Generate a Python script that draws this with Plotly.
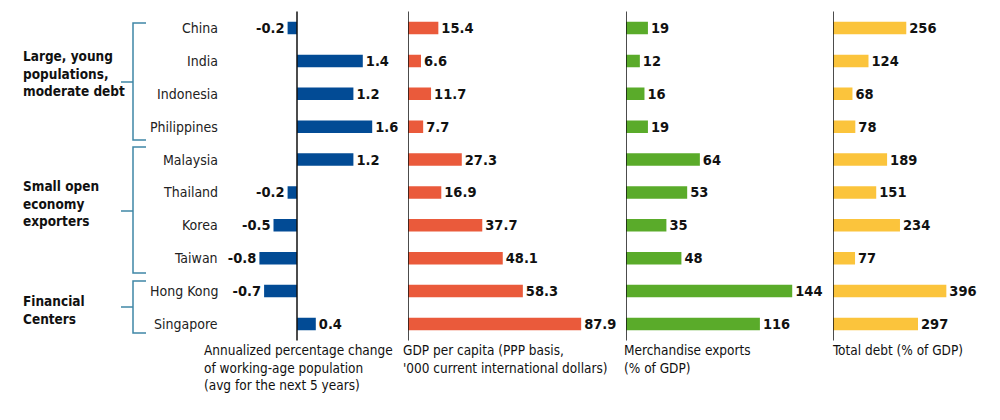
import plotly.graph_objects as go

countries = ["China", "India", "Indonesia", "Philippines", "Malaysia", "Thailand",
             "Korea", "Taiwan", "Hong Kong", "Singapore"]
pop_change = [-0.2, 1.4, 1.2, 1.6, 1.2, -0.2, -0.5, -0.8, -0.7, 0.4]
gdp_pc = [15.4, 6.6, 11.7, 7.7, 27.3, 16.9, 37.7, 48.1, 58.3, 87.9]
exports = [19, 12, 16, 19, 64, 53, 35, 48, 144, 116]
debt = [256, 124, 68, 78, 189, 151, 234, 77, 396, 297]

panel_titles = [
    "Annualized percentage change<br>of working-age population<br>(avg for the next 5 years)",
    "GDP per capita (PPP basis,<br>'000 current international dollars)",
    "Merchandise exports<br>(% of GDP)",
    "Total debt (% of GDP)",
]
groups = ["Large, young<br>populations,<br>moderate debt", "Small open<br>economy<br>exporters",
          "Financial<br>Centers"]

colors = ["#024b95", "#ea5a3b", "#5aab2a", "#fbc43c"]
series = [pop_change, gdp_pc, exports, debt]
fmts = ["{:.1f}", "{:.1f}", "{:d}", "{:d}"]

W, H = 1000, 420
FONT = "DejaVu Sans Condensed, DejaVu Sans, sans-serif"

# pixel layout
y_top_px, y_bot_px = 11.6, 340.4
ydom = [1 - y_bot_px / H, 1 - y_top_px / H]
xdoms = [(240.6, 386.3), (408, 605), (626, 828), (833, 999)]
xranges = [(-1.2, 1.9), (0, 100), (0, 175), (0, 580)]
title_x = [203, 402, 623, 831]
# bracket geometry (pixels): top, bottom, middle, label centre
brackets = [(23, 140, 82, 73), (147, 273, 211, 203), (281, 333, 307, 310)]

fig = go.Figure()
for i, (vals, col, fmt) in enumerate(zip(series, colors, fmts)):
    ax = "" if i == 0 else str(i + 1)
    fig.add_trace(go.Bar(
        x=vals, y=countries, orientation="h",
        marker=dict(color=col, line=dict(width=0)),
        width=0.38,
        text=[fmt.format(v) for v in vals],
        textposition="outside",
        constraintext="none",
        textfont=dict(family=FONT, size=14.5, color="#111111", weight="bold"),
        cliponaxis=False,
        xaxis="x" + ax, yaxis="y",
        showlegend=False, hoverinfo="skip",
    ))
    fig.update_layout(**{
        "xaxis" + ax: dict(domain=[xdoms[i][0] / W, xdoms[i][1] / W], range=list(xranges[i]),
                           showgrid=False, zeroline=False, showticklabels=False,
                           showline=False, ticks="", anchor="y", fixedrange=True)
    })
    fig.add_shape(type="line", xref="x" + ax, yref="paper", x0=0, x1=0,
                  y0=ydom[0], y1=ydom[1], line=dict(color="#111111", width=1.5))
    fig.add_annotation(xref="paper", yref="paper", x=title_x[i] / W, y=1 - 341 / H,
                       xanchor="left", yanchor="top", align="left",
                       text=panel_titles[i], showarrow=False, borderpad=0,
                       font=dict(family=FONT, size=13.5, color="#111111"))

fig.update_layout(yaxis=dict(domain=ydom, categoryorder="array", categoryarray=countries,
                             autorange="reversed", showticklabels=False, showgrid=False,
                             zeroline=False, showline=False, ticks="", fixedrange=True))

# country labels
for c in countries:
    fig.add_annotation(xref="paper", yref="y", x=219 / W, y=c, xanchor="right",
                       yanchor="middle", text=c, showarrow=False, borderpad=0,
                       font=dict(family=FONT, size=14, color="#222222"))

# group brackets and labels
bc = "#3f87a6"
px = lambda v: v / W
py = lambda v: 1 - v / H
for g, (top, bot, mid, lab) in zip(groups, brackets):
    fig.add_shape(type="path", xref="paper", yref="paper",
                  path=f"M {px(146)} {py(top)} L {px(133)} {py(top)} L {px(133)} {py(bot)} L {px(146)} {py(bot)}",
                  line=dict(color=bc, width=1.5))
    fig.add_shape(type="line", xref="paper", yref="paper", x0=px(121), x1=px(133),
                  y0=py(mid), y1=py(mid), line=dict(color=bc, width=1.5))
    fig.add_annotation(xref="paper", yref="paper", x=22 / W, y=py(lab), xanchor="left",
                       yanchor="middle", align="left", text=g, showarrow=False, borderpad=0,
                       font=dict(family=FONT, size=13.5, color="#111111", weight="bold"))

fig.update_layout(width=W, height=H, margin=dict(l=0, r=0, t=0, b=0),
                  paper_bgcolor="white", plot_bgcolor="white", bargap=0.6)
fig.write_html("out.html", post_script="document.body.style.margin='0';",
               config={"displayModeBar": False})
